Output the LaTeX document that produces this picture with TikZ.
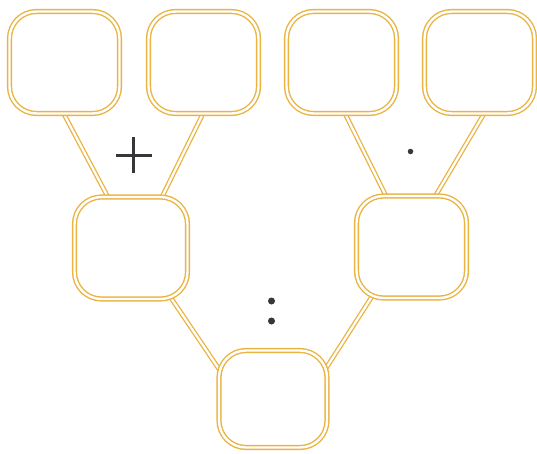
\documentclass[tikz,border=0pt]{standalone}
\usetikzlibrary{backgrounds,calc}
\definecolor{gold}{RGB}{234,180,66}
\definecolor{ink}{RGB}{55,55,58}
\tikzset{
  box/.style={draw=gold, double=white, double distance=2.4pt, line width=1.4pt,
    rounded corners=27pt, fill=white, minimum width=#1, minimum height=102pt,
    inner sep=0pt, outer sep=0pt},
  box/.default=110pt,
  link/.style={draw=gold, double=white, double distance=2.2pt, line width=1.3pt},
  dotmark/.style={circle, fill=ink, inner sep=0pt, minimum size=#1},
  opline/.style={draw=ink, line width=3pt}
}
\begin{document}
\begin{tikzpicture}[x=1pt,y=-1pt]
\useasboundingbox (0,0) rectangle (537,453);
% top row
\node[box] (t1) at (64.5,62.5) {};
\node[box] (t2) at (203.5,62.5) {};
\node[box] (t3) at (341.5,62.5) {};
\node[box] (t4) at (479.5,62.5) {};
% middle row
\node[box=113pt] (m1) at (131,248) {};
\node[box=110pt] (m2) at (411.5,247) {};
% bottom
\node[box=108pt, minimum height=97pt] (b) at (273,399) {};
% connectors
\begin{scope}[on background layer]
\fill[white] (0,0) rectangle (537,453);
\draw[link] ([shift={(-3,-4)}]t1.south) -- ([shift={(-21,4)}]m1.north);
\draw[link] ([shift={(1.5,-4)}]t2.south) -- ([shift={(29,4)}]m1.north);
\draw[link] ([shift={(1.5,-4)}]t3.south) -- ([shift={(-23.5,4)}]m2.north);
\draw[link] ([shift={(7,-4)}]t4.south) -- ([shift={(21.5,4)}]m2.north);
\draw[link] ([shift={(36,44)}]m1.center) -- ([shift={(4,-24)}]b.west);
\draw[link] ([shift={(-36,44)}]m2.center) -- ([shift={(-4,-26)}]b.east);
\end{scope}
% operators
\coordinate (plus) at (133.5,155);
\draw[opline] ([xshift=-18pt]plus) -- ([xshift=18pt]plus);
\draw[opline] ([yshift=-18pt]plus) -- ([yshift=18pt]plus);
\node[dotmark=5.5pt] (dot) at (410.5,151.5) {};
\node[dotmark=7pt] (c1) at (271.5,301) {};
\node[dotmark=7pt] (c2) at (271.5,321) {};
\end{tikzpicture}
\end{document}
